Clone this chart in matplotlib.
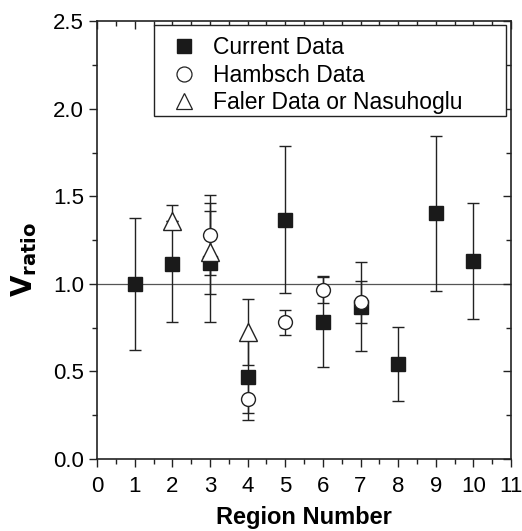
import numpy as np
import matplotlib
matplotlib.use("Agg")
import matplotlib.pyplot as plt
from matplotlib.ticker import MultipleLocator, FormatStrFormatter
from matplotlib.lines import Line2D
from matplotlib.patches import Rectangle

# values
cur_x = [1, 2, 3, 4, 5, 6, 7, 8, 9, 10]
cur_y = [1.00, 1.115, 1.12, 0.47, 1.366, 0.785, 0.87, 0.543, 1.404, 1.131]
cur_err = [0.377, 0.335, 0.34, 0.21, 0.42, 0.26, 0.255, 0.213, 0.443, 0.33]

ham_x = [3, 4, 5, 6, 7]
ham_y = [1.28, 0.343, 0.78, 0.966, 0.895]
ham_err = [0.23, 0.12, 0.07, 0.075, 0.12]

fal_x = [2, 3, 4]
fal_y = [1.36, 1.18, 0.727]
fal_err = [0.0, 0.235, 0.19]

labels = ['Current Data', 'Hambsch Data', 'Faler Data or Nasuhoglu']

plt.rcParams['font.family'] = ['Liberation Sans', 'DejaVu Sans']
ink = '#222222'

fig = plt.figure(figsize=(5.22, 5.31), dpi=100)
ax = fig.add_axes([0.186, 0.1356, 0.793, 0.824])

ax.axhline(1.0, color='#555555', lw=0.9, zorder=1)

ebkw = dict(ecolor=ink, elinewidth=1.0, capsize=4, capthick=1.0, linestyle='none', zorder=3)
ax.errorbar(cur_x, cur_y, yerr=cur_err, marker='s', ms=9.5, mfc='#1a1a1a', mec='#1a1a1a', **ebkw)
ax.errorbar(ham_x, ham_y, yerr=ham_err, marker='o', ms=10, mfc='white', mec=ink, mew=1.0, **ebkw)
ax.errorbar(fal_x, fal_y, yerr=fal_err, marker='^', ms=12.5, mfc='white', mec=ink, mew=1.0, **ebkw)

ax.set_xlim(0, 11)
ax.set_ylim(0, 2.5)
ax.xaxis.set_major_locator(MultipleLocator(1))
ax.xaxis.set_minor_locator(MultipleLocator(0.5))
ax.yaxis.set_major_locator(MultipleLocator(0.5))
ax.yaxis.set_minor_locator(MultipleLocator(0.25))
ax.yaxis.set_major_formatter(FormatStrFormatter('%.1f'))

ax.tick_params(which='both', direction='out', top=True, right=True, labelsize=16, width=1.0,
               color=ink, labeltop=False, labelright=False)
ax.tick_params(which='major', length=6)
ax.tick_params(which='minor', length=3.5)
ax.tick_params(axis='x', which='major', pad=6)
# top and right ticks point inward
for t in ax.xaxis.get_major_ticks() + ax.xaxis.get_minor_ticks():
    t.tick2line.set_marker(3)
for t in ax.yaxis.get_major_ticks() + ax.yaxis.get_minor_ticks():
    t.tick2line.set_marker(0)
for s in ax.spines.values():
    s.set_linewidth(1.2)
    s.set_color(ink)

ax.set_xlabel('Region Number', fontsize=17, fontweight='bold', labelpad=7)
ax.set_ylabel(r'$\mathbf{V}_{\mathbf{ratio}}$', fontsize=20)
ax.yaxis.set_label_coords(-0.14, 0.455)

# legend box drawn separately, it is wider than its text
ax.add_patch(Rectangle((0.1377, 0.784), 0.988 - 0.1377, 0.992 - 0.784, transform=ax.transAxes,
                       facecolor='white', edgecolor=ink, lw=1.0, zorder=4))
handles = [
    Line2D([], [], ls='none', marker='s', ms=10, mfc='#1a1a1a', mec='#1a1a1a'),
    Line2D([], [], ls='none', marker='o', ms=10.8, mfc='white', mec=ink, mew=0.9),
    Line2D([], [], ls='none', marker='^', ms=12, mfc='white', mec=ink, mew=0.9),
]
leg = ax.legend(handles, labels, loc='upper left', fontsize=16.5, frameon=False,
                handletextpad=0.77, borderpad=0, labelspacing=0.2, handlelength=1.0,
                borderaxespad=0, bbox_to_anchor=((172.5 - 97) / 414, (459 - 36) / 437.5))
leg.set_zorder(5)

fig.savefig('out.png', dpi=100)
